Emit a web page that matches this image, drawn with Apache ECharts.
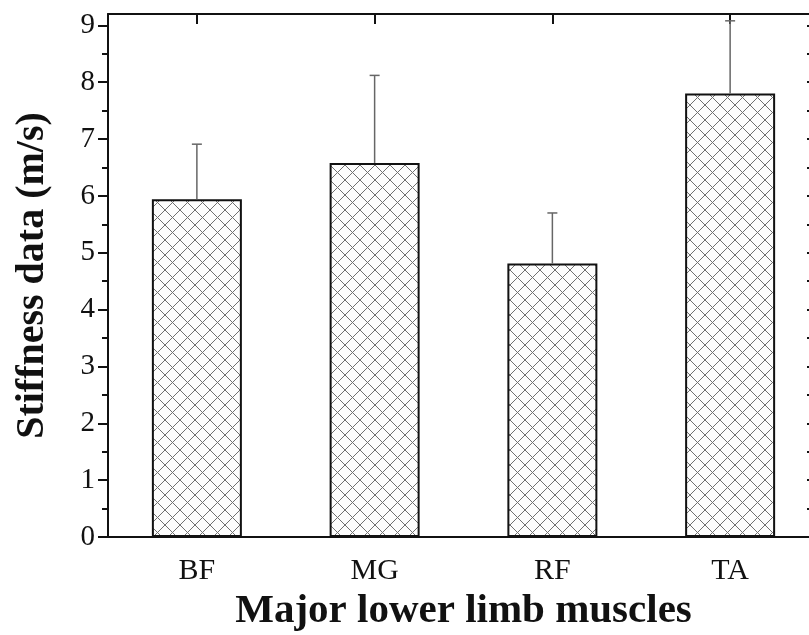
<!DOCTYPE html>
<html>
<head>
<meta charset="utf-8">
<script src="https://cdn.jsdelivr.net/npm/echarts@6/dist/echarts.min.js"></script>
<style>html,body{margin:0;padding:0;background:#fff;}#c{width:809px;height:635px;}</style>
</head>
<body>
<div id="c"></div>
<script>
const categories = ['BF', 'MG', 'RF', 'TA'];
const means = [5.94, 6.58, 4.81, 7.80];
const errors = [0.97, 1.54, 0.89, 1.28];
const majorTicks = [0, 1, 2, 3, 4, 5, 6, 7, 8, 9];
const minorTicks = [0.5, 1.5, 2.5, 3.5, 4.5, 5.5, 6.5, 7.5, 8.5];

const pat = document.createElement('canvas');
pat.width = 15; pat.height = 15;
const g = pat.getContext('2d');
g.fillStyle = '#fdfdfd';
g.fillRect(0, 0, 15, 15);
g.strokeStyle = '#707070';
g.lineWidth = 1;
g.beginPath();
g.moveTo(-2, -2); g.lineTo(17, 17);
g.moveTo(17, -2); g.lineTo(-2, 17);
g.stroke();

const FONT = 'Liberation Serif';
const chart = echarts.init(document.getElementById('c'));
const lineStyle = { color: '#111', width: 2 };
chart.setOption({
  animation: false,
  grid: { left: 108, width: 711, top: 14, height: 523, containLabel: false, outerBoundsMode: 'none' },
  xAxis: [
    {
      type: 'category', data: categories, position: 'bottom',
      axisLine: { onZero: false, lineStyle },
      axisTick: { alignWithLabel: true, length: 10, lineStyle },
      axisLabel: { margin: 19, fontFamily: FONT, fontSize: 30, color: '#111' },
      name: 'Major lower limb muscles', nameLocation: 'middle', nameGap: 54,
      nameTextStyle: { fontFamily: FONT, fontSize: 41, fontWeight: 'bold', color: '#111' }
    },
    {
      type: 'category', data: categories, position: 'top',
      axisLine: { show: true, onZero: false, lineStyle },
      axisTick: { show: true, alignWithLabel: true, inside: true, length: 10, lineStyle },
      axisLabel: { show: false }
    }
  ],
  yAxis: [
    {
      type: 'value', min: 0, max: 9.2, position: 'left',
      splitLine: { show: false },
      axisLine: { show: true, onZero: false, lineStyle },
      axisTick: { show: true, length: 10, lineStyle, customValues: majorTicks },
      axisLabel: { customValues: majorTicks, margin: 13, fontFamily: FONT, fontSize: 29, color: '#111' },
      name: 'Stiffness data (m/s)', nameLocation: 'middle', nameGap: 55,
      nameTextStyle: { fontFamily: FONT, fontSize: 40, fontWeight: 'bold', color: '#111' }
    },
    {
      type: 'value', min: 0, max: 9.2, position: 'left',
      splitLine: { show: false },
      axisLine: { show: false },
      axisTick: { show: true, length: 6, lineStyle, customValues: minorTicks },
      axisLabel: { show: false }
    },
    {
      type: 'value', min: 0, max: 9.2, position: 'right',
      splitLine: { show: false },
      axisLine: { show: true, onZero: false, lineStyle },
      axisTick: { show: true, inside: true, length: 12, lineStyle, customValues: majorTicks },
      axisLabel: { show: false }
    },
    {
      type: 'value', min: 0, max: 9.2, position: 'right',
      splitLine: { show: false },
      axisLine: { show: false },
      axisTick: { show: true, inside: true, length: 12, lineStyle, customValues: minorTicks },
      axisLabel: { show: false }
    }
  ],
  series: [
    {
      type: 'bar', data: means, barWidth: 90, xAxisIndex: 0, yAxisIndex: 0,
      itemStyle: { color: { image: pat, repeat: 'repeat' }, borderColor: '#111', borderWidth: 2 }
    },
    {
      type: 'custom', xAxisIndex: 0, yAxisIndex: 0,
      data: means.map((m, i) => [i, m, errors[i]]),
      renderItem: function (params, api) {
        const i = api.value(0), m = api.value(1), e = api.value(2);
        const p0 = api.coord([i, m]);
        const p1 = api.coord([i, m + e]);
        const st = { stroke: '#666', lineWidth: 1.5 };
        return {
          type: 'group',
          children: [
            { type: 'line', shape: { x1: p0[0], y1: p0[1], x2: p1[0], y2: p1[1] }, style: st },
            { type: 'line', shape: { x1: p1[0] - 5, y1: p1[1], x2: p1[0] + 5, y2: p1[1] }, style: st }
          ]
        };
      },
      z: 3
    }
  ]
});
</script>
</body>
</html>
